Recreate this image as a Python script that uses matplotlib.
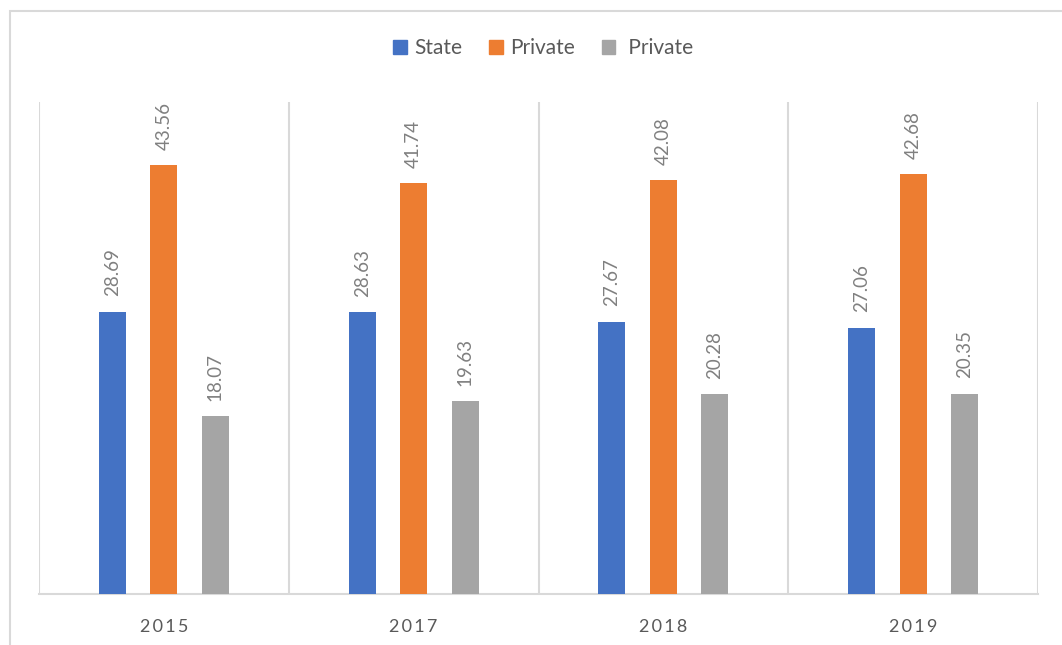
import numpy as np
import matplotlib
matplotlib.use('Agg')
import matplotlib.pyplot as plt
from matplotlib.patches import Patch, Rectangle

years = ["2015", "2017", "2018", "2019"]
series_names = ["State", "Private", " Private"]
state = [28.69, 28.63, 27.67, 27.06]
private = [43.56, 41.74, 42.08, 42.68]
private2 = [18.07, 19.63, 20.28, 20.35]

colors = ["#4472C4", "#ED7D31", "#A5A5A5"]
grid_col = "#D9D9D9"
text_col = "#595959"
label_col = "#808080"

plt.rcParams['font.family'] = ['Lato', 'DejaVu Sans']

fig = plt.figure(figsize=(10.62, 6.45), dpi=100)
W, H = 1062.0, 645.0

# outer chart border (cropped at right and bottom)
fig.patches.append(Rectangle((10 / W, -0.1), 2.0, (H - 11) / H + 0.1,
                             transform=fig.transFigure, fill=False,
                             edgecolor=grid_col, lw=1.5, clip_on=False))

ax = fig.add_axes([39 / W, (H - 594) / H, (1038 - 39) / W, (594 - 102) / H])

x = np.arange(len(years))
bar_w = 0.108
offs = [-0.206, 0.0, 0.206]

for vals, off, c in zip([state, private, private2], offs, colors):
    bars = ax.bar(x + off, vals, width=bar_w, color=c, zorder=3)
    for b, v in zip(bars, vals):
        ax.annotate("%.2f" % v, (b.get_x() + b.get_width() / 2, v),
                    xytext=(0, 11), textcoords='offset points',
                    rotation=90, ha='center', va='bottom',
                    fontsize=13.5, color=label_col)

for xv in np.arange(-0.5, len(years), 1.0):
    ax.axvline(xv, color=grid_col, lw=1.5, zorder=1)

ax.set_xlim(-0.5, len(years) - 0.5)
ax.set_ylim(0, 50)
ax.set_yticks([])
for s in ['top', 'left', 'right']:
    ax.spines[s].set_visible(False)
ax.spines['bottom'].set_color(grid_col)
ax.spines['bottom'].set_linewidth(1.5)

ax.set_xticks(x)
ax.set_xticklabels(["\u2009".join(y) for y in years], fontsize=13, color=text_col)
ax.tick_params(axis='x', length=0, pad=18)

handles = [Patch(color=c) for c in colors]
fig.legend(handles, series_names, loc='center', bbox_to_anchor=(543 / W, (H - 48) / H),
           ncol=3, frameon=False, fontsize=15, handlelength=0.65, handleheight=0.65,
           handletextpad=0.35, columnspacing=1.3, labelcolor=text_col)

fig.savefig("out.png", dpi=100, facecolor="white")
